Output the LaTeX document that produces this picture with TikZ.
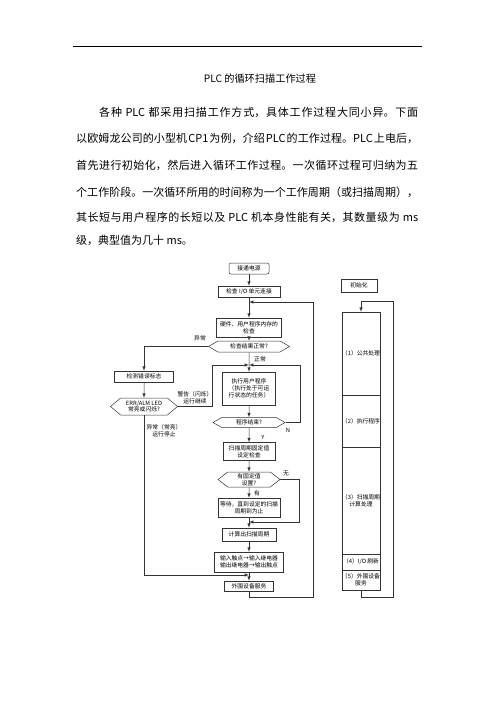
\documentclass[tikz,border=0pt]{standalone}
\usepackage{fontspec}
\newfontfamily\cjk{Noto Sans CJK SC}
\usepackage{tikz}
\usetikzlibrary{positioning}
\usetikzlibrary{arrows,shapes}
\XeTeXlinebreaklocale "zh"
\XeTeXlinebreakskip=0pt plus 1pt
\newcommand{\flowfont}{\cjk\fontsize{5.8}{6.8}\selectfont}
\newcommand{\bodyfont}{\cjk\fontsize{11}{13}\selectfont}
\newcommand{\fullline}[1]{\parfillskip=0pt\relax #1\par}

\begin{document}
\begin{tikzpicture}[x=1pt,y=-1pt,>=latex,
        box/.style={draw=black!80,line width=0.5pt,rectangle,inner sep=0pt,align=center,font=\flowfont},
        hexa/.style={draw=black!80,line width=0.5pt,signal,signal to=east and west,inner sep=0pt,align=center,font=\flowfont},
        lbl/.style={inner sep=0pt,align=center,font=\flowfont},
        flow/.style={draw=black!80,line width=0.5pt},
        para/.style={anchor=west,inner sep=0pt,font=\bodyfont,text width=342pt,align=justify}]
        \useasboundingbox (0,0) rectangle (496,702);
        \draw[line width=0.8pt] (73,46) -- (422,46);
        \node[inner sep=0pt,font=\cjk\fontsize{10.2}{12}\selectfont] (title) at (260,79) {PLC 的循环扫描工作过程};
        \node[para,text width=319pt] (p1) at (99,112) {\fullline{各种 PLC 都采用扫描工作方式，具体工作过程大同小异。下面}};
        \node[para] (p2) at (76,138) {\spaceskip=1pt plus 1pt\relax\fullline{以欧姆龙公司的小型机 CP1 为例，介绍 PLC 的工作过程。PLC 上电后，}};
        \node[para] (p3) at (76,165) {\fullline{首先进行初始化，然后进入循环工作过程。一次循环过程可归纳为五}};
        \node[para] (p4) at (76,192) {\fullline{个工作阶段。一次循环所用的时间称为一个工作周期（或扫描周期），}};
        \node[para] (p5) at (76,217) {\fullline{其长短与用户程序的长短以及 PLC 机本身性能有关，其数量级为 ms}};
        \node[anchor=west,inner sep=0pt,font=\bodyfont] (p6) at (76,240) {级，典型值为几十 ms。};

        % main loop
        \node[box,rounded corners=2pt,minimum width=40pt,minimum height=11pt] (power) at (249,268.5) {接通电源};
        \node[box,minimum width=62pt,minimum height=11pt] (ioconn) at (249,291.5) {检查 I/O 单元连接};
        \node[box,minimum width=65pt,minimum height=19pt] (memchk) at (249,327.5) {硬件、用户程序内存的\\检查};
        \node[hexa,minimum width=81pt,minimum height=11pt,signal pointer angle=60] (chkok) at (249,346.5) {检查结果正常?};
        \node[box,minimum width=59pt,minimum height=11pt] (errflag) at (144,376.5) {检测错误标志};
        \node[hexa,minimum width=67pt,minimum height=17pt,signal pointer angle=80] (errled) at (144,406.5) {ERR/ALM LED\\常亮或闪烁?};
        \node[box,minimum width=53pt,minimum height=33pt] (userprog) at (249,388.5) {执行用户程序\\（执行处于可运\\行状态的任务）};
        \node[hexa,minimum width=72pt,minimum height=10pt,signal pointer angle=60] (progend) at (249,422.5) {程序结束?};
        \node[box,minimum width=52pt,minimum height=18pt] (scanchk) at (249,451.5) {扫描周期固定值\\设定检查};
        \node[hexa,minimum width=62pt,minimum height=15pt,signal pointer angle=75] (fixset) at (249,479.5) {有固定值\\设置?};
        \node[box,minimum width=62pt,minimum height=19pt] (waitbox) at (249,507.5) {等待，直到设定的扫描\\周期到为止};
        \node[box,minimum width=54pt,minimum height=13pt] (calc) at (249,534.5) {计算出扫描周期};
        \node[box,minimum width=69pt,minimum height=20pt] (iorefresh) at (249,562) {输入触点→输入继电器\\输出继电器→输出触点};
        \node[box,minimum width=49pt,minimum height=10pt] (service) at (249,586) {外围设备服务};

        \node[lbl] (labnormal) at (260,359) {正常};
        \node[lbl] (lababn) at (200,338) {异常};
        \node[lbl] (labwarn) at (195,398) {警告（闪烁）\\运行继续};
        \node[lbl] (labstop) at (164,431) {异常（常亮）\\运行停止};
        \node[lbl] (labN) at (288,430) {N};
        \node[lbl] (labY) at (263,437) {Y};
        \node[lbl] (labno) at (286,473) {无};
        \node[lbl] (labyes) at (257,493) {有};

        \coordinate (jtop) at (249,302);
        \coordinate (jmid) at (249,365);
        \coordinate (jwait) at (249,522);
        \coordinate (jio) at (249,575);
        \coordinate (wturn) at (212,365);
        \coordinate (nturn) at (300,365);
        \coordinate (fturn) at (299,522);
        \coordinate (lbot) at (313,597);
        \coordinate (ltop) at (313,302);

        \draw[flow,->] (power) -- (ioconn);
        \draw[flow,->] (ioconn) -- (memchk);
        \draw[flow,->] (memchk) -- (chkok);
        \draw[flow,->] (chkok) -- (userprog);
        \draw[flow,->] (chkok.west) -| (errflag);
        \draw[flow,->] (errflag) -- (errled);
        \draw[flow,->] (errled.east) -| (wturn) -- (jmid);
        \draw[flow,->] (errled.south) |- (jio);
        \draw[flow,->] (userprog) -- (progend);
        \draw[flow,->] (progend.east) -| (nturn) -- (jmid);
        \draw[flow,->] (progend) -- (scanchk);
        \draw[flow,->] (scanchk) -- (fixset);
        \draw[flow,->] (fixset) -- (waitbox);
        \draw[flow,->] (fixset.east) -| (fturn) -- (jwait);
        \draw[flow,->] (waitbox) -- (calc);
        \draw[flow,->] (calc) -- (iorefresh);
        \draw[flow,->] (iorefresh) -- (service);
        \draw[flow,->] (service.south) |- (lbot) -- (ltop) -- (jtop);

        % stages
        \node[box,minimum width=36pt,minimum height=13pt] (init) at (359,285.5) {初始化};
        \node[box,minimum width=38pt,minimum height=83pt] (sec1) at (361,353.5) {（1）公共处理};
        \node[box,minimum width=38pt,minimum height=52pt] (sec2) at (361,421) {（2）执行程序};
        \node[box,minimum width=38pt,minimum height=107pt] (sec3) at (361,500.5) {（3）扫描周期\\计算处理};
        \node[box,minimum width=38pt,minimum height=16pt] (sec4) at (361,562) {（4）I/O 刷新};
        \node[box,minimum width=38pt,minimum height=20pt] (sec5) at (361,580) {（5）外围设备\\服务};

        \coordinate (rbot) at (393,597);
        \coordinate (rtop) at (393,301);
        \coordinate (rin) at (361,301);
        \draw[flow,->] (sec5.south) |- (rbot) -- (rtop) -- (rin) -- (sec1.north);
\end{tikzpicture}
\end{document}
